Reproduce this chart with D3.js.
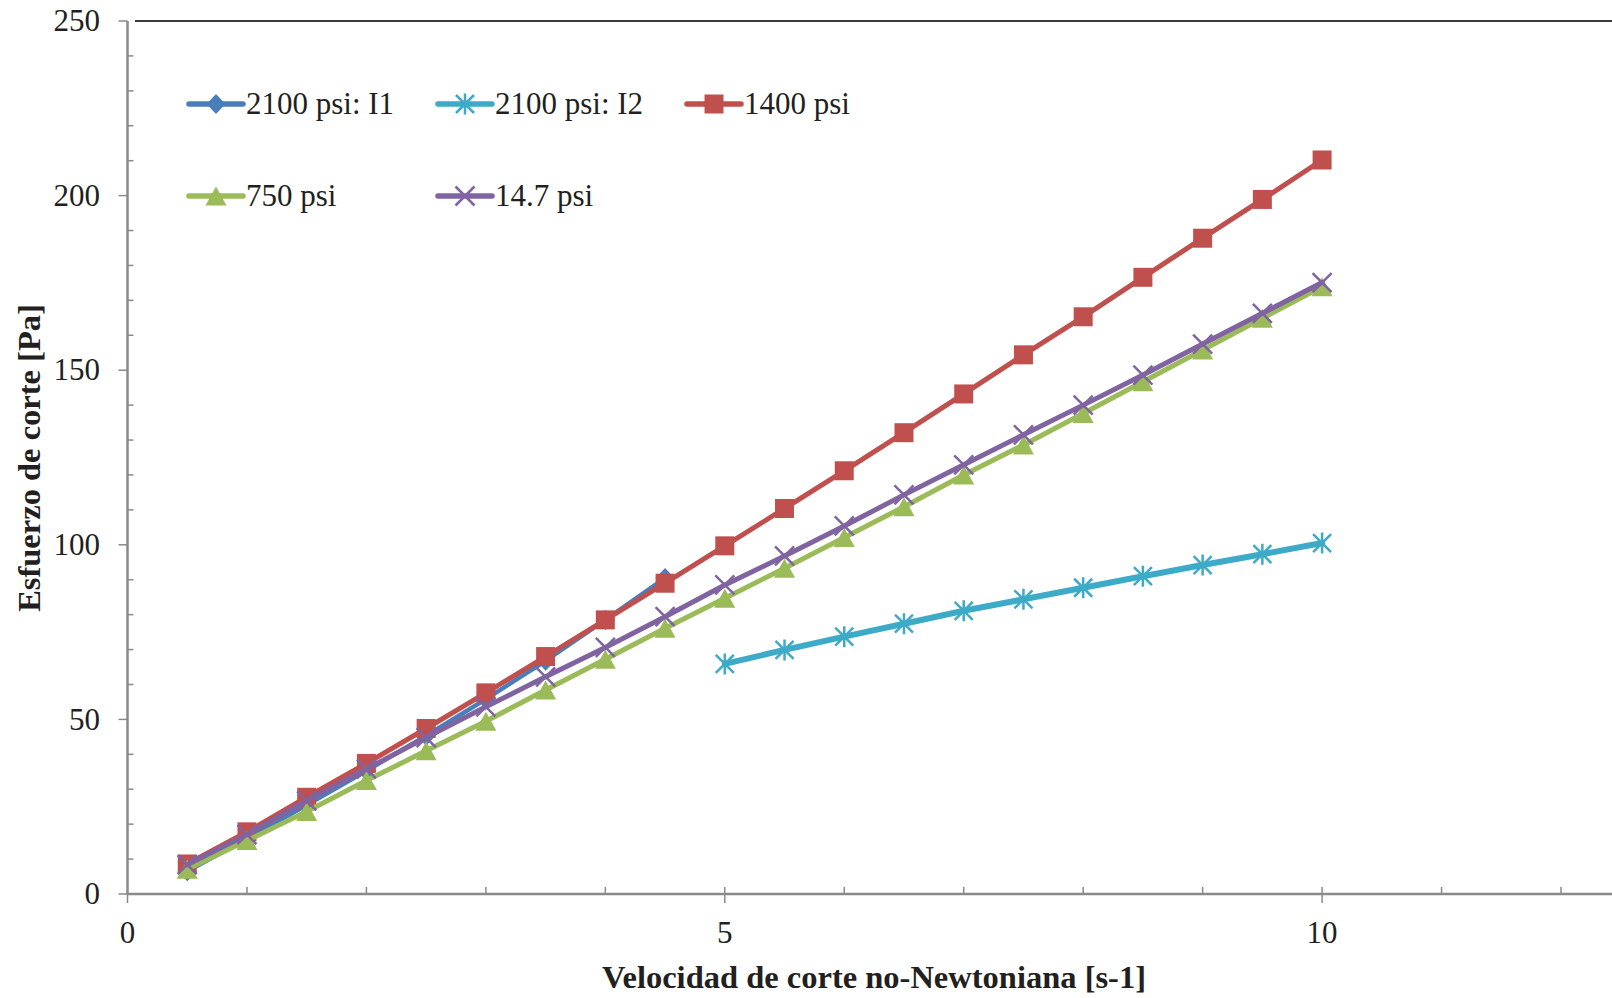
<!DOCTYPE html>
<html>
<head>
<meta charset="utf-8">
<script src="https://cdn.jsdelivr.net/npm/d3@7"></script>
<style>
  html, body { margin: 0; padding: 0; background: #ffffff; }
  svg { display: block; }
  text { font-family: "Liberation Serif", "Times New Roman", serif; fill: #231f20; }
</style>
</head>
<body>
<svg id="chart" width="1612" height="998"></svg>
<script>
// Shear rate (x) for each series
const rateAll = [0.5, 1, 1.5, 2, 2.5, 3, 3.5, 4, 4.5, 5, 5.5, 6, 6.5, 7, 7.5, 8, 8.5, 9, 9.5, 10];
const rateI1  = [0.5, 1, 1.5, 2, 2.5, 3, 3.5, 4, 4.5];
const rateI2  = [5, 5.5, 6, 6.5, 7, 7.5, 8, 8.5, 9, 9.5, 10];

// Shear stress [Pa]
const stress2100I1 = [6.5, 15.8, 25.5, 35.3, 45.3, 55.8, 66.8, 78.5, 90.5];
const stress2100I2 = [65.9, 69.9, 73.7, 77.4, 81.1, 84.4, 87.7, 91.0, 94.2, 97.3, 100.5];
const stress1400   = [8.6, 17.8, 27.7, 37.4, 47.4, 57.6, 68.0, 78.5, 89.0, 99.7, 110.4, 121.2, 132.1, 143.2, 154.4, 165.3, 176.6, 187.8, 198.9, 210.2];
const stress750    = [7.1, 15.3, 23.6, 32.5, 41.0, 49.5, 58.4, 67.2, 76.1, 84.7, 93.3, 102.1, 110.9, 120.0, 128.6, 137.6, 146.7, 155.8, 164.9, 173.9];
const stress14_7   = [8.4, 17.0, 26.7, 35.8, 44.8, 53.6, 62.2, 70.6, 79.4, 88.5, 96.8, 105.4, 114.3, 122.9, 131.5, 140.0, 148.6, 157.5, 166.3, 175.1];

// Series labels and axis ticks
const seriesNames = ["2100 psi: I1", "2100 psi: I2", "1400 psi", "750 psi", "14.7 psi"];
const xMajorTicks = [0, 5, 10];
const yMajorTicks = [0, 50, 100, 150, 200, 250];
const xTitle = "Velocidad de corte no-Newtoniana [s-1]";
const yTitle = "Esfuerzo de corte [Pa]";

const series = [
  { name: seriesNames[0], x: rateI1,  y: stress2100I1, color: "#4A7EBB", width: 4.5, marker: "diamond" },
  { name: seriesNames[1], x: rateI2,  y: stress2100I2, color: "#3DAAC8", width: 6,   marker: "star" },
  { name: seriesNames[2], x: rateAll, y: stress1400,   color: "#C0504D", width: 5,   marker: "square" },
  { name: seriesNames[3], x: rateAll, y: stress750,    color: "#9BBB59", width: 5,   marker: "triangle" },
  { name: seriesNames[4], x: rateAll, y: stress14_7,   color: "#8064A2", width: 5,   marker: "cross" }
];

const svg = d3.select("#chart");
const axisGray = "#8a8a8a";
const labelSize = 31;
const titleSize = 32.5;

const x = d3.scaleLinear().domain([0, 12.5]).range([127.5, 127.5 + 12.5 * 119.46]);
const y = d3.scaleLinear().domain([0, 250]).range([894, 21]);

// ---- axes ----
const axes = svg.append("g");

// top frame line
axes.append("line")
  .attr("x1", 135).attr("x2", 1612)
  .attr("y1", y(250)).attr("y2", y(250))
  .attr("stroke", "#3a3a3a").attr("stroke-width", 2);

// y axis
axes.append("line")
  .attr("x1", x(0)).attr("x2", x(0))
  .attr("y1", y(250)).attr("y2", y(0) + 1)
  .attr("stroke", axisGray).attr("stroke-width", 2.5);

// y minor ticks (inside)
axes.selectAll(".yminor").data(d3.range(10, 250, 10).filter(v => v % 50 !== 0))
  .join("line")
  .attr("x1", x(0)).attr("x2", x(0) + 6)
  .attr("y1", d => y(d)).attr("y2", d => y(d))
  .attr("stroke", axisGray).attr("stroke-width", 1.5);

// y major ticks (outside)
axes.selectAll(".ymajor").data(yMajorTicks)
  .join("line")
  .attr("x1", x(0) - 9).attr("x2", x(0))
  .attr("y1", d => y(d)).attr("y2", d => y(d))
  .attr("stroke", axisGray).attr("stroke-width", 1.5);

axes.selectAll(".ylabel").data(yMajorTicks)
  .join("text")
  .attr("x", 100).attr("y", d => y(d))
  .attr("dy", "0.33em")
  .attr("text-anchor", "end")
  .attr("font-size", labelSize)
  .text(d => d);

// x axis
axes.append("line")
  .attr("x1", x(0) - 1).attr("x2", 1612)
  .attr("y1", y(0)).attr("y2", y(0))
  .attr("stroke", axisGray).attr("stroke-width", 2.5);

// x minor ticks (inside)
axes.selectAll(".xminor").data(d3.range(1, 13).filter(v => v % 5 !== 0))
  .join("line")
  .attr("x1", d => x(d)).attr("x2", d => x(d))
  .attr("y1", y(0) - 7).attr("y2", y(0))
  .attr("stroke", axisGray).attr("stroke-width", 1.5);

// x major ticks (cross)
axes.selectAll(".xmajor").data(xMajorTicks)
  .join("line")
  .attr("x1", d => x(d)).attr("x2", d => x(d))
  .attr("y1", d => d === 0 ? y(0) : y(0) - 7).attr("y2", y(0) + 9)
  .attr("stroke", axisGray).attr("stroke-width", 1.5);

axes.selectAll(".xlabel").data(xMajorTicks)
  .join("text")
  .attr("x", d => x(d)).attr("y", 933)
  .attr("dy", "0.33em")
  .attr("text-anchor", "middle")
  .attr("font-size", labelSize)
  .text(d => d);

// axis titles
svg.append("text")
  .attr("x", 874).attr("y", 977)
  .attr("dy", "0.33em")
  .attr("text-anchor", "middle")
  .attr("font-size", titleSize).attr("font-weight", "bold")
  .text(xTitle);

svg.append("text")
  .attr("transform", "translate(29,458) rotate(-90)")
  .attr("dy", "0.33em")
  .attr("text-anchor", "middle")
  .attr("font-size", titleSize).attr("font-weight", "bold")
  .text(yTitle);

// ---- markers ----
function markerPath(type) {
  switch (type) {
    case "diamond":  return "M0,-10L9.5,0L0,10L-9.5,0Z";
    case "square":   return "M-9.5,-9.5H9.5V9.5H-9.5Z";
    case "triangle": return "M0,-9.5L10.5,9.5L-10.5,9.5Z";
    case "cross":    return "M-9.5,-9.5L9.5,9.5M9.5,-9.5L-9.5,9.5";
    case "star":     return "M-9,-9L9,9M9,-9L-9,9M0,-10.5V10.5";
  }
}
const filledMarker = t => t === "diamond" || t === "square" || t === "triangle";

function drawMarker(sel, s) {
  const p = sel.append("path").attr("d", markerPath(s.marker));
  if (filledMarker(s.marker)) {
    p.attr("fill", s.color).attr("stroke", "none");
  } else {
    p.attr("fill", "none").attr("stroke", s.color).attr("stroke-width", 2.5);
  }
}

// ---- series ----
const line = d3.line().x(d => x(d[0])).y(d => y(d[1]));
const plot = svg.append("g");

series.forEach(s => {
  const pts = s.x.map((v, i) => [v, s.y[i]]);
  const g = plot.append("g");
  g.append("path")
    .attr("d", line(pts))
    .attr("fill", "none")
    .attr("stroke", s.color)
    .attr("stroke-width", s.width)
    .attr("stroke-linejoin", "round")
    .attr("stroke-linecap", "round");
  g.selectAll(".m").data(pts).join("g")
    .attr("transform", d => `translate(${x(d[0])},${y(d[1])})`)
    .each(function () { drawMarker(d3.select(this), s); });
});

// ---- legend ----
const legendCols = [189, 438, 687];
const legendRows = [104, 196];
const legend = svg.append("g");
series.forEach((s, i) => {
  const lx = legendCols[i % 3];
  const ly = legendRows[Math.floor(i / 3)];
  const g = legend.append("g").attr("transform", `translate(${lx},${ly})`);
  g.append("line")
    .attr("x1", 0).attr("x2", 54).attr("y1", 0).attr("y2", 0)
    .attr("stroke", s.color).attr("stroke-width", 5.5)
    .attr("stroke-linecap", "round");
  const mg = g.append("g").attr("transform", "translate(27,0)");
  drawMarker(mg, s);
  g.append("text")
    .attr("x", 57).attr("y", 0).attr("dy", "0.33em")
    .attr("font-size", labelSize)
    .text(s.name);
});
</script>
</body>
</html>
